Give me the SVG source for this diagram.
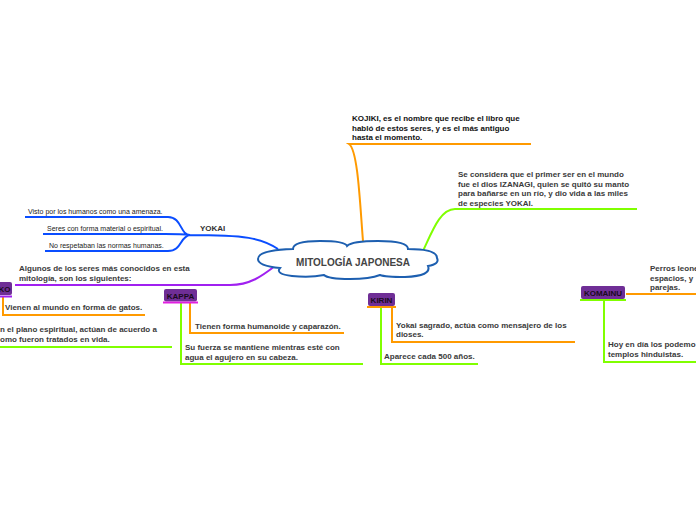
<svg xmlns="http://www.w3.org/2000/svg" width="696" height="520" viewBox="0 0 696 520">
<style>
  .t{font-family:"Liberation Sans",Arial,sans-serif;font-size:8px;font-weight:bold;fill:#3a3a3a}
  .k{fill:#111}
  .s{font-family:"Liberation Sans",Arial,sans-serif;font-size:7px;fill:#222}
  .lbl{font-family:"Liberation Sans",Arial,sans-serif;font-size:8px;font-weight:bold;fill:#1a0a20}
  .box{fill:#6f2e96}
  .o{stroke:#ff9a00;stroke-width:2;fill:none}
  .g{stroke:#80ff00;stroke-width:2;fill:none}
  .b{stroke:#0a4dff;stroke-width:2;fill:none}
  .p{stroke:#a020f0;stroke-width:2;fill:none}
  .m{stroke:#e020e0;stroke-width:2;fill:none}
</style>
<rect width="696" height="520" fill="#fff"/>
<g id="connectors">
  <path class="o" d="M363 241 C360 205 358 150 349 144 L531 144"/>
  <path class="g" d="M423 251 C432 232 440 209 455 209 L637 209"/>
  <path class="b" d="M278 249 C262 238 245 235 190 235 M190 235 C180 235 182 217 168 217 L25 217 M190 235 C182 234 175 234 165 234 L43 234 M190 235 C180 236 182 251 168 251 L45 251"/>
  <path class="p" d="M275 266 C262 276 250 285 230 285 L15 285"/>
  <path class="o" d="M3 297 L3 315 L145 315"/>
  <path class="g" d="M0 347 L172 347"/>
  <path class="g" d="M181 303 L181 364 L363 364"/>
  <path class="o" d="M190 303 L190 333 L344 333"/>
  <path class="g" d="M381 308 L381 364 L478 364"/>
  <path class="o" d="M392 308 L392 342 L575 342"/>
  <path class="o" d="M626 294 L696 294"/>
  <path class="g" d="M604 301 L604 362 L696 362"/>
</g>
<g id="center">
  <path d="M293 249 Q293 241 320 241 Q345 241 347 246 Q352 241 378 241 Q408 241 408 249 Q437 249 437 258 Q440 264 428 266 Q432 276 405 277 Q385 277 380 275 Q370 279 350 279 Q328 279 324 275 Q310 278 292 276 Q275 274 280 268 Q258 266 258 259 Q258 250 293 249 Z" fill="#fff" stroke="#1d5fb0" stroke-width="2"/>
  <text x="353" y="266" text-anchor="middle" style="font-family:'Liberation Sans',Arial,sans-serif;font-size:10px;font-weight:bold;fill:#444">MITOLOGÍA JAPONESA</text>
</g>
<g id="kojiki">
  <text class="t k" x="352" y="121">KOJIKI, es el nombre que recibe el libro que</text>
  <text class="t k" x="352" y="130.5">habló de estos seres, y es el más antiguo</text>
  <text class="t k" x="352" y="140">hasta el momento.</text>
</g>
<g id="izanagi">
  <text class="t" x="458" y="177">Se considera que el primer ser en el mundo</text>
  <text class="t" x="458" y="186.5">fue el dios IZANAGI, quien se quitó su manto</text>
  <text class="t" x="458" y="196">para bañarse en un río, y dio vida a las miles</text>
  <text class="t" x="458" y="205.5">de especies YOKAI.</text>
</g>
<g id="yokai">
  <text x="200" y="231" style="font-family:'Liberation Sans',Arial,sans-serif;font-size:8px;font-weight:bold;fill:#333">YOKAI</text>
</g>
<g id="yokai1"><text class="s" x="28" y="214">Visto por los humanos como una amenaza.</text></g>
<g id="yokai2"><text class="s" x="47" y="231">Seres con forma material o espiritual.</text></g>
<g id="yokai3"><text class="s" x="49" y="248">No respetaban las normas humanas.</text></g>
<g id="algunos">
  <text class="t" x="19" y="271">Algunos de los seres más conocidos en esta</text>
  <text class="t" x="19" y="280.5">mitología, son los siguientes:</text>
</g>
<g id="neko">
  <rect class="box" x="-6" y="282" width="18" height="13" rx="2"/>
  <path class="p" d="M0 296.5 L12 296.5"/>
  <text class="lbl" x="-1.5" y="291.5">KO</text>
</g>
<g id="neko1"><text class="t" x="5" y="310">Vienen al mundo en forma de gatos.</text></g>
<g id="neko2">
  <text class="t" x="0" y="332">n el plano espiritual, actúan de acuerdo a</text>
  <text class="t" x="0" y="341.5">omo fueron tratados en vida.</text>
</g>
<g id="kappa">
  <rect class="box" x="164" y="289" width="33" height="12.5" rx="2"/>
  <path class="m" d="M163 302.5 L198 302.5"/>
  <text class="lbl" x="180.5" y="298.5" text-anchor="middle">KAPPA</text>
</g>
<g id="kappa1"><text class="t" x="195" y="328.5">Tienen forma humanoide y caparazón.</text></g>
<g id="kappa2">
  <text class="t" x="185" y="350">Su fuerza se mantiene mientras esté con</text>
  <text class="t" x="185" y="359.5">agua el agujero en su cabeza.</text>
</g>
<g id="kirin">
  <rect class="box" x="368" y="293" width="27" height="13" rx="2"/>
  <path class="o" d="M367 307 L396 307"/>
  <text class="lbl" x="381.5" y="302.5" text-anchor="middle">KIRIN</text>
</g>
<g id="kirin1">
  <text class="t" x="396" y="327.5">Yokai sagrado, actúa como mensajero de los</text>
  <text class="t" x="396" y="337">dioses.</text>
</g>
<g id="kirin2"><text class="t" x="384" y="359">Aparece cada 500 años.</text></g>
<g id="komainu">
  <rect class="box" x="581" y="286" width="44" height="13" rx="2"/>
  <path class="g" d="M580 300 L626 300"/>
  <text class="lbl" x="603" y="295.5" text-anchor="middle">KOMAINU</text>
</g>
<g id="komainu1">
  <text class="t" x="650" y="271">Perros leone</text>
  <text class="t" x="650" y="280.5">espacios, y</text>
  <text class="t" x="650" y="290">parejas.</text>
</g>
<g id="komainu2">
  <text class="t" x="608" y="347">Hoy en día los podemo</text>
  <text class="t" x="608" y="356.5">templos hinduistas.</text>
</g>
</svg>
